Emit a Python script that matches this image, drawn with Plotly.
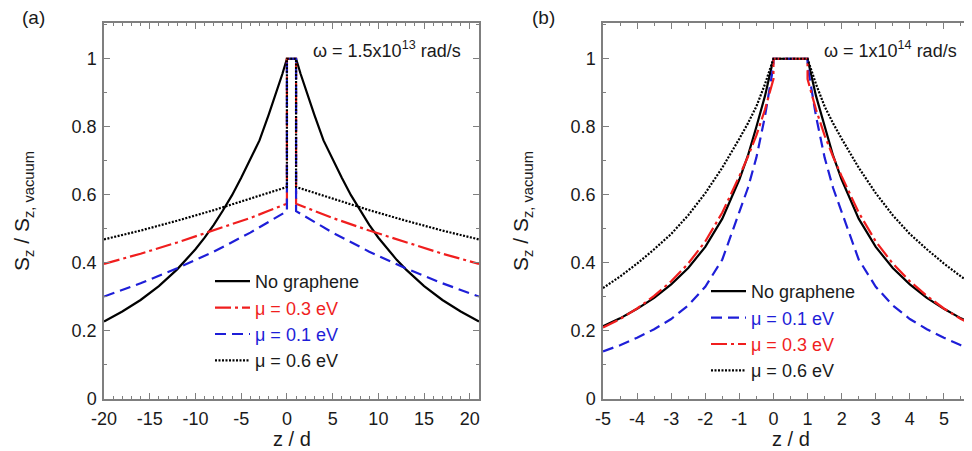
import plotly.graph_objects as go

# ---------------- data: panel (a), omega = 1.5e13 rad/s (left half, z <= 0) ----------------
za_black = [-20, -18, -16, -14, -12, -11, -10, -9, -8, -7, -6, -5, -4, -3, -2, -1, -0.5, 0]
va_black = [0.228, 0.257, 0.291, 0.332, 0.381, 0.409, 0.440, 0.474, 0.512, 0.554, 0.599,
            0.650, 0.704, 0.760, 0.835, 0.913, 0.955, 1.0]
za_col = [-20, -16, -12, -8, -4, -2, 0]
va_mu03 = [0.397, 0.427, 0.460, 0.495, 0.532, 0.553, 0.574]
va_mu01 = [0.301, 0.340, 0.384, 0.433, 0.489, 0.520, 0.552]
va_mu06 = [0.469, 0.495, 0.524, 0.555, 0.589, 0.606, 0.623]

# ---------------- data: panel (b), omega = 1e14 rad/s (left half, z <= 0) ----------------
zb = [-5, -4.5, -4, -3.5, -3, -2.5, -2, -1.5, -1, -0.75, -0.5, -0.25, 0]
vb_black = [0.214, 0.237, 0.265, 0.297, 0.337, 0.385, 0.447, 0.530, 0.645, 0.715, 0.800, 0.890, 1.0]
vb_mu01 = [0.140, 0.158, 0.180, 0.205, 0.235, 0.275, 0.330, 0.410, 0.550, 0.620, 0.710, 0.830, 0.98]
vb_mu03 = [0.210, 0.235, 0.266, 0.303, 0.346, 0.398, 0.463, 0.548, 0.655, 0.712, 0.775, 0.850, 0.94]
vb_mu06 = [0.326, 0.360, 0.398, 0.440, 0.485, 0.540, 0.605, 0.680, 0.765, 0.810, 0.860, 0.925, 1.0]

slab = [0, 1]          # slab occupies 0 <= z/d <= 1, S_z/S_z,vac = 1 inside
slab_val = 1.0

# tick labels (plain hyphen minus as in the original)
xa_ticks = [-20, -15, -10, -5, 0, 5, 10, 15, 20]
xa_labels = ["-20", "-15", "-10", "-5", "0", "5", "10", "15", "20"]
xb_ticks = [-5, -4, -3, -2, -1, 0, 1, 2, 3, 4, 5, 6]
xb_labels = ["-5", "-4", "-3", "-2", "-1", "0", "1", "2", "3", "4", "5", "6"]
y_ticks = [0, 0.2, 0.4, 0.6, 0.8, 1.0]
y_labels = ["0", "0.2", "0.4", "0.6", "0.8", "1"]

W, H = 972, 451
MT, MB = 15, 60
PH = H - MT - MB


def py(p):
    return (H - MB - p) / PH


def full(z_left, v_left):
    x = list(z_left) + list(slab) + [slab[1] - z for z in reversed(z_left)]
    y = list(v_left) + [slab_val, slab_val] + list(reversed(v_left))
    return x, y


BLACK = "#000000"
RED = "#f01e1e"
BLUE = "#1e1ed8"
FONT = "Arial, Liberation Sans, sans-serif"

styles = {
    "ng": dict(color=BLACK, width=2.2, dash="solid"),
    "03": dict(color=RED, width=2.2, dash="16px,4px,3px,4px"),
    "01": dict(color=BLUE, width=2.2, dash="11px,6px"),
    "06": dict(color=BLACK, width=2.2, dash="2px,1.5px"),
}
names = {
    "ng": "No graphene",
    "03": "<span style='color:%s'>μ = 0.3 eV</span>" % RED,
    "01": "<span style='color:%s'>μ = 0.1 eV</span>" % BLUE,
    "06": "μ = 0.6 eV",
}

fig = go.Figure()

panel_a = [("ng", za_black, va_black), ("03", za_col, va_mu03),
           ("01", za_col, va_mu01), ("06", za_col, va_mu06)]
for key, z, v in panel_a:
    x, y = full(z, v)
    fig.add_trace(go.Scatter(x=x, y=y, mode="lines", line=styles[key], name=names[key],
                             xaxis="x", yaxis="y", legend="legend"))

panel_b = [("ng", zb, vb_black), ("01", zb, vb_mu01),
           ("03", zb, vb_mu03), ("06", zb, vb_mu06)]
for key, z, v in panel_b:
    x, y = full(z, v)
    fig.add_trace(go.Scatter(x=x, y=y, mode="lines", line=styles[key], name=names[key],
                             xaxis="x2", yaxis="y2", legend="legend2"))

AX = "#7f7f7f"
common = dict(showline=True, linecolor=AX, linewidth=1.5, mirror="ticks", ticks="inside",
              ticklen=6, tickwidth=1, tickcolor=AX, showgrid=False, zeroline=False,
              tickfont=dict(size=18, color="#1a1a1a", family=FONT), automargin=False,
              ticklabeloverflow="allow")

ytitle = "S<sub>z</sub> / S<sub>z, vacuum</sub>"
ytitle_d = dict(text=ytitle, font=dict(size=21), standoff=36)

fig.update_layout(
    width=W, height=H, margin=dict(l=0, r=0, t=MT, b=MB),
    paper_bgcolor="white", plot_bgcolor="white",
    font=dict(family=FONT, color="#1a1a1a"),
    xaxis=dict(domain=[96 / W, 471 / W], range=[-20, 21], tickvals=xa_ticks, ticktext=xa_labels,
               anchor="y", ticklabelstandoff=3,
               minor=dict(dtick=1, tick0=0, ticks="inside", ticklen=3, tickcolor=AX),
               **common),
    yaxis=dict(domain=[0, 1], range=[0, 1.105], tickvals=y_ticks, ticktext=y_labels, anchor="x",
               ticklabelstandoff=2,
               minor=dict(dtick=0.1, tick0=0, ticks="inside", ticklen=3, tickcolor=AX),
               title=ytitle_d, **common),
    xaxis2=dict(domain=[595 / W, 970 / W], range=[-5, 6], tickvals=xb_ticks, ticktext=xb_labels,
                anchor="y2", ticklabelstandoff=3,
                minor=dict(dtick=0.5, tick0=0, ticks="inside", ticklen=3, tickcolor=AX),
                **common),
    yaxis2=dict(domain=[0, 1], range=[0, 1.105], tickvals=y_ticks, ticktext=y_labels, anchor="x2",
                ticklabelstandoff=2,
                minor=dict(dtick=0.1, tick0=0, ticks="inside", ticklen=3, tickcolor=AX),
                title=ytitle_d, **common),
    legend=dict(x=202 / W, xanchor="left", y=py(255), yanchor="top", itemwidth=35,
                bgcolor="rgba(0,0,0,0)", font=dict(size=18, family=FONT, color="#1a1a1a"),
                tracegroupgap=0),
    legend2=dict(x=698 / W, xanchor="left", y=py(265), yanchor="top", itemwidth=35,
                 bgcolor="rgba(0,0,0,0)", font=dict(size=18, family=FONT, color="#1a1a1a"),
                 tracegroupgap=0),
    showlegend=True,
)

# x-axis titles placed just under the tick labels
for xd in ("x domain", "x2 domain"):
    fig.add_annotation(text="z / d", x=0.5, y=py(431), xref=xd, yref="paper",
                       xanchor="center", yanchor="middle", showarrow=False,
                       font=dict(size=20), borderpad=0)

fig.add_annotation(text="(a)", x=12 / W, y=py(9), xref="paper", yref="paper",
                   xanchor="left", yanchor="middle", showarrow=False, font=dict(size=19))
fig.add_annotation(text="(b)", x=522 / W, y=py(9), xref="paper", yref="paper",
                   xanchor="left", yanchor="middle", showarrow=False, font=dict(size=19))
fig.add_annotation(text="ω = 1.5x10<sup>13</sup> rad/s", x=455 / W, y=py(42), xref="paper",
                   yref="paper", xanchor="right", yanchor="middle", showarrow=False,
                   font=dict(size=18))
fig.add_annotation(text="ω = 1x10<sup>14</sup> rad/s", x=951 / W, y=py(42), xref="paper",
                   yref="paper", xanchor="right", yanchor="middle", showarrow=False,
                   font=dict(size=18))

fig.write_html("out.html")
